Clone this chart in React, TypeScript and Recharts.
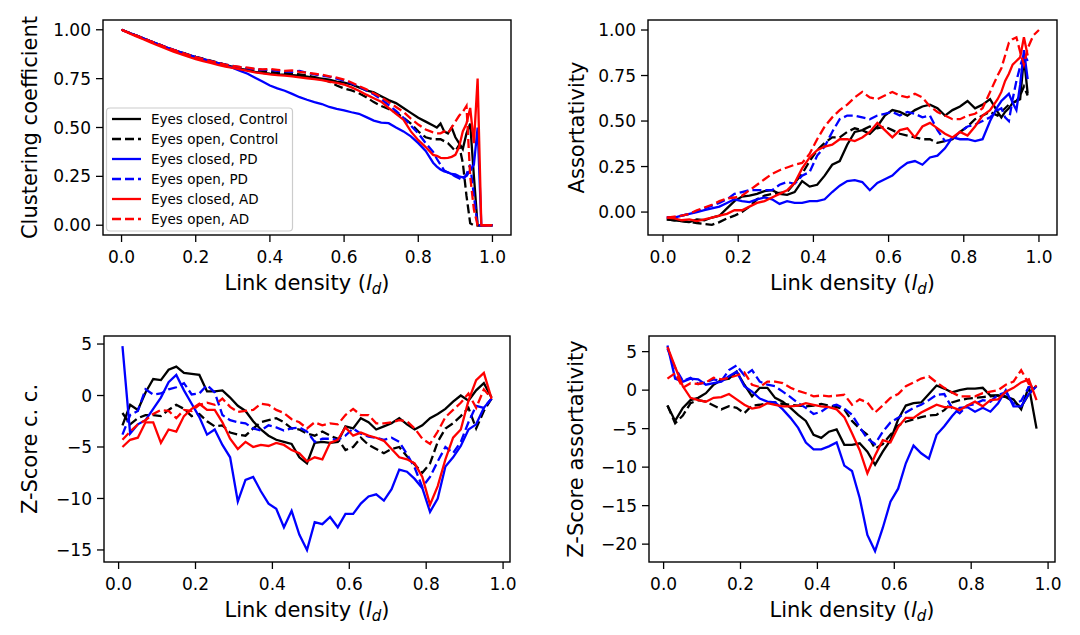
import React from 'react';
import { LineChart, Line, XAxis, YAxis } from 'recharts';

// ---------------- DATA ----------------
// Panel 1: Clustering coefficient
const x1 = [0,0.02,0.04,0.06,0.08,0.1,0.12,0.14,0.16,0.18,0.2,0.22,0.24,0.26,0.28,0.3,0.32,0.34,0.36,0.38,0.4,0.42,0.44,0.46,0.48,0.5,0.52,0.54,0.56,0.58,0.6,0.62,0.64,0.66,0.68,0.7,0.72,0.74,0.76,0.78,0.8,0.82,0.84,0.85,0.86,0.87,0.88,0.89,0.9,0.91,0.92,0.93,0.94,0.95,0.96,0.97,0.98,0.99,1.0];
const p1ecCtrl = [1.00,.985,.97,.955,.94,.925,.91,.895,.885,.872, .86,.85,.84,.83,.82,.81,.80,.795,.785,.78, .775,.772,.77,.768,.765,.76,.755,.75,.745,.735, .73,.72,.705,.69,.68,.66,.64,.625,.60,.575, .55,.53,.51, .50,.52,.48,.47,.50,.45,.42,.39,.47,.52,.25,0,0,0,0,0];
const p1eoCtrl = [1.00,.985,.97,.955,.94,.925,.91,.897,.885,.873, .862,.852,.842,.832,.822,.812,.805,.80,.795,.79, .785,.78,.778,.776,.772,.765,.758,.748,.735,.715, .70,.69,.675,.655,.63,.61,.595,.575,.55,.52, .48,.45,.44, .44,.44,.43,.42,.40,.38,.41,.32,.15,.01,0,0,0,0,0,0];
const p1ecPD = [1.00,.985,.97,.955,.94,.925,.91,.897,.884,.872, .86,.85,.84,.83,.82,.805,.79,.775,.755,.735, .715,.70,.688,.672,.655,.642,.63,.62,.605,.595, .588,.578,.57,.553,.535,.525,.522,.50,.48,.455, .42,.38,.32, .30,.285,.275,.27,.262,.26,.25,.245,.252,.28,.31,.50,0,0,0,0];
const p1eoPD = [1.00,.985,.97,.955,.94,.925,.91,.897,.884,.872, .86,.85,.84,.83,.822,.815,.808,.802,.798,.795, .795,.79,.787,.785,.79,.78,.772,.765,.76,.75, .74,.725,.71,.69,.67,.645,.615,.585,.55,.51, .47,.42,.375, .34,.31,.28,.27,.26,.25,.24,.23,.26,.31,.15,0,0,0,0,0];
const p1ecAD = [1.0,.983,.966,.95,.934,.918,.903,.888,.875,.862, .85,.84,.83,.82,.812,.805,.797,.79,.782,.777, .772,.768,.765,.762,.757,.752,.747,.742,.735,.728, .72,.705,.688,.668,.65,.632,.60,.57,.54,.48, .435,.40,.36, .355,.345,.343,.345,.35,.36,.40,.48,.52,.60,.42,.75,0,0,0,0];
const p1eoAD = [1.0,.985,.97,.955,.94,.925,.91,.897,.884,.872, .86,.85,.84,.83,.822,.815,.81,.806,.80,.797, .80,.795,.79,.792,.785,.78,.775,.77,.762,.755, .745,.73,.712,.695,.675,.655,.63,.605,.58,.545, .515,.49,.475, .47,.47,.48,.47,.50,.53,.56,.58,.61,.25,.08,0,0,0,0,0];

// Panel 2: Assortativity
const x2 = [0.01,0.03,0.05,0.07,0.09,0.11,0.13,0.15,0.17,0.19,0.21,0.23,0.25,0.27,0.29,0.31,0.33,0.35,0.37,0.39,0.41,0.43,0.45,0.47,0.49,0.51,0.53,0.55,0.57,0.59,0.61,0.63,0.65,0.67,0.69,0.71,0.73,0.75,0.77,0.79,0.81,0.83,0.85,0.87,0.89,0.9,0.91,0.92,0.93,0.94,0.95,0.96,0.97,0.985,1.0];
const p2ecCtrl = [-.04,-.045,-.05,-.055,-.04,-.045,-.03,-.02,.02,.06, .085,.09,.10,.115,.12,.10,.095,.11,.17,.14, .15,.20,.26,.28,.37,.44,.45,.43,.47,.53, .56,.55,.53,.56,.58,.59,.57,.53,.56,.58, .61,.57,.59,.62,.55, .52,.55,.57,.60,.61,.62,.85,.65, null,null];
const p2eoCtrl = [-.04,-.045,-.05,-.055,-.06,-.065,-.07,-.055,-.035,-.02, 0,.03,.07,.09,.10,.105,.11,.16,.21,.28, .34,.38,.41,.41,.44,.46,.45,.47,.46,.47, .45,.43,.42,.41,.40,.40,.38,.39,.40,.44, .47,.51,.53,.55,.53, .55,.57,.59,.60,.61,.64,.69,.64, null,null];
const p2ecPD = [-.03,-.03,-.02,-.01,0,.01,.02,.03,.05,.07, .06,.055,.07,.08,.07,.045,.06,.05,.05,.06, .06,.07,.11,.145,.17,.175,.165,.12,.16,.18, .20,.24,.27,.28,.26,.30,.31,.35,.41,.40, .40,.39,.40,.50,.58, .61,.63,.65,.60,.56,.70,.89,.73, null,null];
const p2eoPD = [-.03,-.03,-.02,-.01,.005,.02,.035,.05,.07,.10, .11,.12,.12,.12,.12,.15,.165,.155,.20,.22, .31,.36,.44,.51,.53,.53,.52,.51,.53,.54, .55,.53,.55,.54,.52,.53,.45,.39,.40,.44, .47,.48,.50,.52,.56, .57,.52,.50,.62,.72,.80,.87,.83, null,null];
const p2ecAD = [-.03,-.035,-.045,-.04,-.05,-.04,-.03,-.02,-.01,.01, .01,.03,.05,.06,.08,.10,.12,.16,.24,.30, .34,.36,.37,.40,.40,.39,.41,.44,.49,.45, .41,.45,.46,.41,.47,.49,.46,.43,.41,.44, .42,.47,.53,.56,.62, .66,.72,.76,.81,.83,.85,.96,.86, null,null];
const p2eoAD = [-.03,-.025,-.02,-.01,.01,.025,.04,.06,.075,.08, .09,.12,.15,.18,.21,.23,.245,.26,.27,.32, .40,.47,.52,.56,.59,.63,.66,.63,.62,.64, .66,.64,.63,.65,.63,.58,.55,.53,.51,.51, .53,.54,.57,.66,.75, .79,.86,.93,.95,.96,.88,.81,.90, .97,1.0];

// Panel 3: Z-Score c. c.
const x3 = [0.01,0.03,0.05,0.07,0.09,0.11,0.13,0.15,0.17,0.19,0.21,0.23,0.25,0.27,0.29,0.31,0.33,0.35,0.37,0.39,0.41,0.43,0.45,0.47,0.49,0.51,0.53,0.55,0.57,0.59,0.61,0.63,0.65,0.67,0.69,0.71,0.73,0.75,0.77,0.79,0.81,0.83,0.85,0.87,0.89,0.91,0.93,0.95,0.97];
const p3ecCtrl = [-2.9,-0.9,-1.4,0.3,1.6,1.5,2.5,2.8,2.2,2.1, 2.0,0.4,0.4,0.5,-0.2,-1.0,-1.5,-2.5,-3.3,-3.9, -4.3,-4.5,-4.7,-6.0,-6.6,-4.6,-4.5,-4.6,-4.5,-3.0, -3.2,-2.2,-2.6,-3.3,-3.0,-2.7,-2.2,-2.8,-3.3,-2.9, -2.2,-1.8,-1.3,-0.6,0.0,-0.5,0.5,1.2,-0.2];
const p3eoCtrl = [-1.7,-2.8,-2.2,-1.9,-1.9,-2.0,-1.4,-0.9,-1.3,-2.0, -1.8,-2.5,-3.0,-2.9,-3.6,-3.8,-3.9,-3.2,-2.6,-2.4, -2.2,-2.6,-3.2,-3.3,-3.7,-3.9,-3.5,-3.9,-4.2,-5.3, -5.0,-4.1,-4.8,-5.2,-5.6,-5.2,-5.0,-5.9,-6.7,-7.5, -6.6,-4.5,-3.2,-2.7,-2.0,-1.2,-3.2,-1.5,-0.3];
const p3ecPD = [4.8,-3.7,-2.8,-2.4,-1.3,-0.2,1.3,2.0,0.5,-0.8, -2.1,-3.8,-3.3,-4.8,-6.0,-10.3,-8.2,-7.9,-9.3,-10.5, -11.0,-12.8,-11.2,-13.5,-15.0,-12.3,-12.5,-11.8,-12.8,-11.5, -11.5,-10.5,-9.8,-9.6,-10.2,-9.1,-7.2,-7.4,-8.1,-9.0, -11.3,-10.0,-6.9,-6.0,-4.9,-3.3,-2.8,-1.2,-0.3];
const p3eoPD = [-3.8,-1.9,-1.5,0.6,0.1,0.2,0.6,0.8,1.2,0.1, 0.2,1.0,0.3,-1.9,-2.4,-2.6,-2.7,-3.2,-3.4,-2.9, -3.1,-3.4,-3.2,-3.1,-3.5,-4.5,-4.2,-4.2,-4.3,-3.9, -3.2,-3.7,-4.0,-4.1,-4.3,-4.1,-4.5,-5.7,-7.0,-8.9, -7.9,-6.4,-5.0,-5.6,-4.5,-2.6,-1.0,-1.2,-0.3];
const p3ecAD = [-5.0,-4.3,-4.1,-2.6,-2.6,-4.6,-3.3,-3.5,-2.0,-1.3, -0.8,-1.4,-1.4,-2.6,-4.2,-5.2,-4.5,-5.0,-4.8,-4.9, -4.6,-4.8,-5.3,-5.6,-6.4,-6.0,-6.2,-4.6,-4.3,-3.1, -3.9,-3.6,-3.9,-4.1,-4.4,-5.2,-6.0,-6.2,-6.6,-7.9, -10.6,-8.8,-6.2,-4.1,-3.3,-0.5,1.5,2.2,-0.3];
const p3eoAD = [-4.3,-3.5,-2.8,-2.4,-1.8,-1.4,-1.5,-2.2,-1.4,-1.5, -0.9,-0.7,-0.9,-0.3,-1.1,-1.6,-1.5,-1.4,-0.8,-0.9, -1.4,-1.7,-2.3,-2.6,-3.2,-2.6,-2.9,-2.7,-2.8,-1.9, -1.3,-1.9,-1.9,-2.7,-2.7,-2.6,-2.4,-2.5,-3.2,-4.2, -4.7,-3.5,-2.1,-1.4,-0.7,0.2,-1.2,0.6,-0.3];

// Panel 4: Z-Score assortativity
const x4 = x3;
const p4ecCtrl = [-2.0,-4.0,-2.3,-1.3,-1.0,-0.4,0.7,1.3,1.5,2.4, 0.7,-0.8,0.3,0.3,-1.0,-1.5,-2.3,-3.2,-4.0,-5.8, -6.2,-5.4,-5.1,-7.1,-7.1,-6.9,-8.0,-9.7,-8.0,-6.5, -3.8,-2.0,-1.7,-1.6,-0.5,0.6,0.2,-0.3,0.0,0.2, 0.2,0.3,-0.7,-0.7,-0.8,-1.2,-2.5,0.5,-5.0];
const p4eoCtrl = [-2.0,-4.3,-3.3,-1.7,-1.3,-1.5,-2.0,-2.5,-2.1,-2.3, -3.0,-2.0,-1.9,-1.7,-1.6,-1.8,-1.9,-2.0,-2.1,-2.0, -1.8,-2.0,-2.2,-2.5,-4.0,-5.0,-5.8,-7.6,-7.0,-5.8, -4.6,-4.1,-3.8,-3.5,-3.3,-3.2,-2.6,-1.6,-1.3,-1.1, -1.0,-0.9,-0.8,-0.7,-0.9,-1.5,-2.2,-0.5,0.6];
const p4ecPD = [5.8,1.5,1.1,1.5,1.4,0.7,0.9,1.1,1.8,2.4, 0.5,-0.2,-1.1,-1.5,-1.6,-2.5,-3.6,-4.9,-6.8,-7.7, -7.7,-7.3,-6.8,-9.8,-10.5,-14.0,-18.8,-20.9,-17.9,-14.5, -12.8,-9.5,-7.2,-8.2,-8.9,-5.8,-4.7,-3.4,-2.3,-2.2, -2.8,-2.3,-2.8,-1.7,0.0,-2.1,-2.1,-0.5,0.5];
const p4eoPD = [5.4,2.9,1.2,1.6,0.8,1.0,1.4,1.2,2.6,3.2, 1.9,2.6,1.1,0.7,0.5,-0.2,-0.9,-1.7,-2.3,-3.1, -2.8,-2.1,-1.9,-2.4,-3.2,-4.8,-6.3,-7.0,-5.4,-4.2, -3.6,-2.9,-2.3,-1.9,-1.3,-0.6,-0.5,-2.3,-3.0,-2.0, -1.8,-1.3,-1.5,-0.6,-0.3,-1.8,-1.4,0.4,0.5];
const p4ecAD = [5.6,3.0,0.5,-1.0,-1.3,-1.5,-1.0,-0.9,-0.5,-1.2, -1.9,-2.4,-2.2,-1.7,-1.9,-2.1,-2.1,-2.0,-1.7,-1.9, -2.1,-2.2,-2.5,-3.5,-5.6,-7.8,-10.8,-8.5,-6.5,-6.8, -4.8,-3.6,-3.6,-2.9,-2.4,-1.9,-2.2,-2.2,-2.6,-2.0, -1.5,-2.1,-1.3,-1.2,-0.2,0.3,1.0,1.4,-1.3];
const p4eoAD = [1.5,2.2,0.3,0.9,0.8,1.0,1.6,1.4,1.6,1.9, 2.3,0.7,0.4,1.1,1.1,0.9,0.3,-0.1,-0.4,-0.8, -0.7,-0.8,-0.7,-0.6,-1.9,-1.2,-1.6,-2.9,-2.0,-1.0, -0.5,0.5,1.0,1.5,1.8,1.0,0.3,-0.3,-0.8,-0.8, -0.8,-0.4,-0.2,0.0,0.7,1.1,2.6,0.8,0.5];

// Ticks
const xTicks = [0, 0.2, 0.4, 0.6, 0.8, 1.0];
const yTicksUnit = [0, 0.25, 0.5, 0.75, 1.0];
const yTicksZcc = [-15, -10, -5, 0, 5];
const yTicksZas = [-20, -15, -10, -5, 0, 5];

// Series labels
const seriesNames = ['Eyes closed, Control', 'Eyes open, Control', 'Eyes closed, PD', 'Eyes open, PD', 'Eyes closed, AD', 'Eyes open, AD'];
const seriesKeys = ['ecCtrl', 'eoCtrl', 'ecPD', 'eoPD', 'ecAD', 'eoAD'];

// ---------------- STYLE ----------------
const FONT = '"DejaVu Sans", Verdana, sans-serif';
const SERIES_STYLE = [
  { color: '#000000', dash: undefined },
  { color: '#000000', dash: '9 4' },
  { color: '#0000ff', dash: undefined },
  { color: '#0000ff', dash: '9 4' },
  { color: '#ff0000', dash: undefined },
  { color: '#ff0000', dash: '9 4' },
];
const LW = 2.3;
const YW = 70;
const XH = 45;
const TP = 6;
const RP = 6;

function buildRows(xs: number[], cols: (number | null)[][]) {
  return xs.map((x, i) => {
    const r: any = { x };
    seriesKeys.forEach((k, j) => { r[k] = cols[j][i]; });
    return r;
  });
}

const rows1 = buildRows(x1, [p1ecCtrl, p1eoCtrl, p1ecPD, p1eoPD, p1ecAD, p1eoAD]);
const rows2 = buildRows(x2, [p2ecCtrl, p2eoCtrl, p2ecPD, p2eoPD, p2ecAD, p2eoAD]);
const rows3 = buildRows(x3, [p3ecCtrl, p3eoCtrl, p3ecPD, p3eoPD, p3ecAD, p3eoAD]);
const rows4 = buildRows(x4, [p4ecCtrl, p4eoCtrl, p4ecPD, p4eoPD, p4ecAD, p4eoAD]);

const fmt2 = (v: number) => v.toFixed(2);
const fmtInt = (v: number) => (v < 0 ? '\u2212' + Math.abs(v) : String(v));

type Box = { x: number; y: number; w: number; h: number };

const BOX1: Box = { x: 103, y: 20, w: 408, h: 215 };
const BOX2: Box = { x: 648, y: 20, w: 409, h: 215 };
const BOX3: Box = { x: 104, y: 336, w: 406, h: 226 };
const BOX4: Box = { x: 649, y: 336, w: 406, h: 226 };

function Panel(props: { rows: any[]; box: Box; xDomain: number[]; yDomain: number[]; yTicks: number[]; yFmt: (v: number) => string }) {
  const { rows, box, xDomain, yDomain, yTicks, yFmt } = props;
  const w = box.w + YW + RP;
  const h = box.h + TP + XH;
  const tickStyle = { fill: '#000', fontSize: 17, fontFamily: FONT };
  const tickLine = { stroke: '#000', strokeWidth: 1.3 };
  return (
    <div style={{ position: 'absolute', left: box.x - YW, top: box.y - TP, width: w, height: h }}>
      <LineChart width={w} height={h} data={rows} margin={{ top: TP, right: RP, bottom: 0, left: 0 }}>
        <XAxis dataKey="x" type="number" domain={xDomain} ticks={xTicks} allowDataOverflow interval={0}
          tickFormatter={(v: number) => v.toFixed(1)} axisLine={false} tickSize={7} tickMargin={9}
          height={XH} tick={tickStyle} tickLine={tickLine} />
        <YAxis type="number" domain={yDomain} ticks={yTicks} allowDataOverflow interval={0}
          tickFormatter={yFmt} axisLine={false} tickSize={7} tickMargin={5} width={YW}
          tick={tickStyle} tickLine={tickLine} />
        {seriesKeys.map((k, i) => (
          <Line key={k} type="linear" dataKey={k} stroke={SERIES_STYLE[i].color} strokeWidth={LW}
            strokeDasharray={SERIES_STYLE[i].dash} dot={false} activeDot={false}
            isAnimationActive={false} connectNulls={false} />
        ))}
      </LineChart>
    </div>
  );
}

function XLabel({ cx, y }: { cx: number; y: number }) {
  return (
    <text x={cx} y={y} textAnchor="middle" fontSize={21} fontFamily={FONT} fill="#000">
      Link density (<tspan fontStyle="italic">l</tspan>
      <tspan fontStyle="italic" fontSize={15} dy={4}>d</tspan>
      <tspan dy={-4}>)</tspan>
    </text>
  );
}

function YLabel({ x, cy, text }: { x: number; cy: number; text: string }) {
  return (
    <text transform={`translate(${x},${cy}) rotate(-90)`} textAnchor="middle" fontSize={21} fontFamily={FONT} fill="#000">
      {text}
    </text>
  );
}

function Frame({ b }: { b: Box }) {
  return <rect x={b.x} y={b.y} width={b.w} height={b.h} fill="none" stroke="#000" strokeWidth={1.4} />;
}

export default function App() {
  return (
    <div style={{ position: 'absolute', left: 0, top: 0, width: 1080, height: 635, background: '#fff', overflow: 'hidden' }}>
      <Panel rows={rows1} box={BOX1} xDomain={[-0.05, 1.05]} yDomain={[-0.05, 1.05]} yTicks={yTicksUnit} yFmt={fmt2} />
      <Panel rows={rows2} box={BOX2} xDomain={[-0.04, 1.048]} yDomain={[-0.126, 1.055]} yTicks={yTicksUnit} yFmt={fmt2} />
      <Panel rows={rows3} box={BOX3} xDomain={[-0.038, 1.018]} yDomain={[-16.17, 5.78]} yTicks={yTicksZcc} yFmt={fmtInt} />
      <Panel rows={rows4} box={BOX4} xDomain={[-0.038, 1.018]} yDomain={[-22.32, 7.03]} yTicks={yTicksZas} yFmt={fmtInt} />
      <svg width={1080} height={635} style={{ position: 'absolute', left: 0, top: 0, pointerEvents: 'none' }}>
        <Frame b={BOX1} />
        <Frame b={BOX2} />
        <Frame b={BOX3} />
        <Frame b={BOX4} />
        <XLabel cx={BOX1.x + BOX1.w / 2} y={290} />
        <XLabel cx={BOX2.x + BOX2.w / 2} y={290} />
        <XLabel cx={BOX3.x + BOX3.w / 2} y={617} />
        <XLabel cx={BOX4.x + BOX4.w / 2} y={617} />
        <YLabel x={37} cy={BOX1.y + BOX1.h / 2} text="Clustering coefficient" />
        <YLabel x={584} cy={BOX2.y + BOX2.h / 2} text="Assortativity" />
        <YLabel x={37} cy={BOX3.y + BOX3.h / 2} text="Z-Score c. c." />
        <YLabel x={583} cy={BOX4.y + BOX4.h / 2} text="Z-Score assortativity" />
        <g>
          <rect x={106.5} y={108} width={186} height={123} rx={3.5} fill="#ffffff" fillOpacity={0.8} stroke="#cccccc" strokeWidth={1.2} />
          {seriesNames.map((n, i) => (
            <g key={n}>
              <line x1={112} x2={141} y1={119 + 20 * i} y2={119 + 20 * i} stroke={SERIES_STYLE[i].color} strokeWidth={LW} strokeDasharray={SERIES_STYLE[i].dash} />
              <text x={151} y={119 + 20 * i} dominantBaseline="central" fontSize={13.5} fontFamily={FONT} fill="#000">{n}</text>
            </g>
          ))}
        </g>
      </svg>
    </div>
  );
}
